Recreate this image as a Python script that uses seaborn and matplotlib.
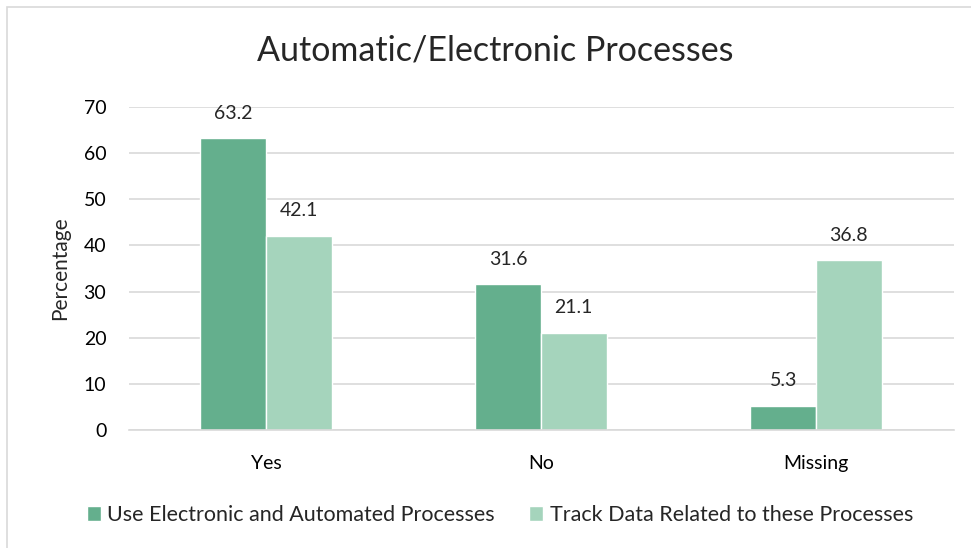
import matplotlib
matplotlib.use("Agg")
import matplotlib.pyplot as plt
import seaborn as sns
import pandas as pd
from matplotlib.patches import Rectangle

categories = ["Yes", "No", "Missing"]
series_names = ["Use Electronic and Automated Processes", "Track Data Related to these Processes"]
use_electronic = [63.2, 31.6, 5.3]
track_data = [42.1, 21.1, 36.8]
y_ticks = [0, 10, 20, 30, 40, 50, 60, 70]

df = pd.DataFrame({
    "Category": categories * 2,
    "Series": [series_names[0]] * 3 + [series_names[1]] * 3,
    "Value": use_electronic + track_data,
})

sns.set_theme(style="white")
plt.rcParams["font.family"] = ["Lato", "DejaVu Sans"]

fig = plt.figure(figsize=(9.71, 5.48), dpi=100)
ax = fig.add_axes([128.5 / 971, 1 - 430 / 548, 825 / 971, 323 / 548])

palette = ["#64AF8D", "#A5D4BC"]
sns.barplot(data=df, x="Category", y="Value", hue="Series", hue_order=series_names,
            palette=palette, width=0.477, gap=0, saturation=1, ax=ax, legend=True)

ax.set_ylim(0, 70)
ax.set_xlim(-0.5, 2.5)
ax.set_yticks(y_ticks)
ax.yaxis.grid(True, color="#D9D9D9", linewidth=1.2)
ax.set_axisbelow(True)
for side in ["top", "right", "left"]:
    ax.spines[side].set_visible(False)
ax.spines["bottom"].set_color("#D9D9D9")
ax.spines["bottom"].set_linewidth(1.2)
ax.tick_params(axis="both", length=0, labelsize=14, colors="black")
ax.tick_params(axis="x", pad=18)
ax.tick_params(axis="y", pad=16)
ax.set_xlabel("")
ax.set_ylabel("Percentage", fontsize=15, labelpad=10)

for container in ax.containers:
    ax.bar_label(container, fmt="%.1f", fontsize=14, padding=12)

fig.text(495 / 971, 1 - 50 / 548, "Automatic/Electronic Processes", fontsize=24.5,
         ha="center", va="center")

handles, labels = ax.get_legend_handles_labels()
ax.get_legend().remove()
fig.legend(handles, labels, loc="center", bbox_to_anchor=(500 / 971, 1 - 515 / 548), ncol=2,
           frameon=False, fontsize=15.5, handlelength=0.65, handleheight=0.65,
           handletextpad=0.3, columnspacing=1.6)

fig.patches.append(Rectangle((7 / 971, -0.1), 1.2, 1 - 7 / 548 + 0.1, transform=fig.transFigure,
                             fill=False, edgecolor="#D9D9D9", linewidth=1.2))

fig.savefig("out.png", dpi=100)
